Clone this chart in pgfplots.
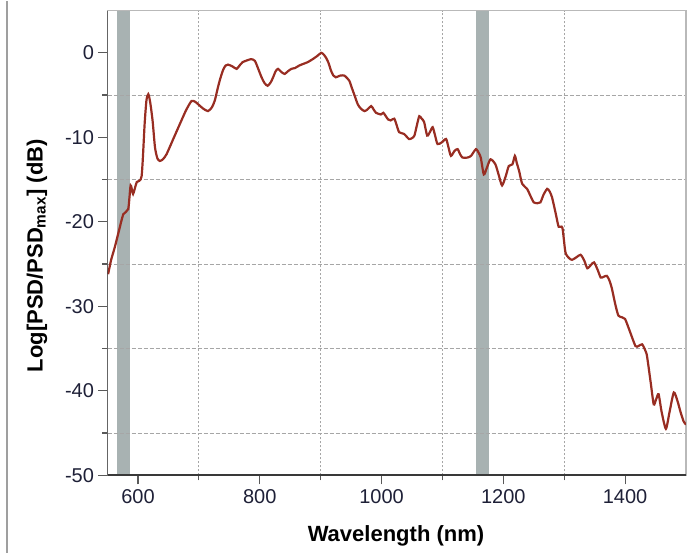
\documentclass[border=0pt]{standalone}
\usepackage{pgfplots}
\pgfplotsset{compat=1.18}
\usepackage{fontspec}
\setmainfont{Liberation Sans}
\definecolor{curve}{RGB}{152,45,34}
\definecolor{band}{RGB}{168,178,178}
\definecolor{ticktxt}{RGB}{30,32,55}
\begin{document}
\begin{tikzpicture}
\begin{axis}[
  set layers,
  scale only axis,
  width=578.5pt, height=464.75pt,
  at={(0,0)}, anchor=south west,
  xmin=550, xmax=1500, ymin=-50, ymax=5,
  xtick={600,800,1000,1200,1400},
  minor xtick={700,900,1100,1300},
  ytick={-50,-40,-30,-20,-10,0},
  minor ytick={-45,-35,-25,-15,-5},
  tick align=outside,
  major tick length=9pt, minor tick length=5pt,
  every tick/.style={gray!70!black, line width=1.2pt},
  xtick pos=bottom, ytick pos=left,
  xmajorgrids=false, ymajorgrids=false,
  xminorgrids=true, yminorgrids=true,
  minor x grid style={gray!70, line width=0.9pt, dash pattern=on 2pt off 2pt},
  minor y grid style={gray!70, line width=0.9pt, dash pattern=on 4pt off 2pt},
  axis line style={gray!55, line width=1.6pt},
  /pgf/number format/assume math mode=true,
  /pgf/number format/1000 sep={},
  ticklabel style={font=\fontsize{20}{24}\selectfont, text=ticktxt},
  xticklabel style={yshift=-2pt},
  yticklabel style={xshift=-1pt},
  xlabel={\textbf{Wavelength (nm)}},
  ylabel={\textbf{Log[PSD/PSD\textsubscript{max}] (dB)}},
  label style={font=\fontsize{22}{26}\selectfont},
  xlabel style={at={(rel axis cs:0.4987,-0.1302)}, anchor=center},
  ylabel style={at={(rel axis cs:-0.1219,0.4723)}, anchor=center},
]
\addplot[fill=band, draw=none, on layer=axis background] coordinates {(565,-50) (587,-50) (587,5) (565,5)} -- cycle;
\addplot[fill=band, draw=none, on layer=axis background] coordinates {(1155,-50) (1177,-50) (1177,5) (1155,5)} -- cycle;
\addplot[curve, line width=2.2pt, smooth, tension=0.4] coordinates {
(551,-26.2) (556,-24.5) (562,-23.0) (569,-21.0) (576,-19.1) (584,-18.5) (588,-15.7) (592,-16.7) (598,-15.3) (606,-14.6)
(611,-8.4) (614,-5.6) (617,-4.9) (620,-5.8) (624,-8.0) (628,-11.2) (632,-12.5) (636,-12.8) (641,-12.6) (647,-12.0)
(658,-10.2) (669,-8.4) (679,-6.8) (688,-5.7) (694,-5.8) (699,-6.1) (707,-6.6) (715,-6.9) (721,-6.5) (726,-5.7)
(731,-4.2) (735,-3.1) (740,-2.0) (744,-1.5) (748,-1.4) (755,-1.6) (762,-1.9) (768,-1.4) (772,-1.1) (779,-0.9)
(786,-0.75) (792,-0.95) (797,-1.8) (803,-2.9) (808,-3.6) (813,-3.9) (818,-3.5) (822,-2.9) (826,-2.2) (830,-1.9)
(836,-2.3) (841,-2.5) (846,-2.2) (852,-1.9) (858,-1.8) (865,-1.5) (872,-1.3) (879,-1.1) (887,-0.75) (894,-0.4)
(901,0.0) (905,-0.2) (909,-0.6) (913,-1.2) (917,-2.1) (921,-2.7) (925,-2.9) (932,-2.7) (939,-2.7) (947,-3.3)
(951,-4.1) (955,-4.9) (961,-6.1) (966,-6.6) (972,-6.9) (977,-6.7) (983,-6.3) (987,-6.7) (991,-7.1) (999,-7.3)
(1003,-7.1) (1007,-7.5) (1011,-7.9) (1015,-8.0) (1021,-7.8) (1025,-8.6) (1029,-9.4) (1037,-9.6) (1045,-10.2) (1050,-10.1)
(1054,-9.8) (1058,-8.6) (1062,-7.5) (1066,-7.8) (1070,-8.2) (1075,-9.8) (1080,-9.3) (1084,-8.8) (1088,-9.8) (1092,-10.8)
(1099,-10.6) (1106,-10.2) (1110,-11.2) (1114,-12.2) (1120,-11.6) (1125,-11.4) (1129,-12.0) (1133,-12.4) (1141,-12.4) (1147,-12.2)
(1155,-11.4) (1160,-11.9) (1163,-12.4) (1168,-14.4) (1173,-13.6) (1179,-12.6) (1187,-13.2) (1193,-14.6) (1198,-15.7) (1204,-14.6)
(1209,-13.4) (1215,-13.2) (1219,-12.2) (1222,-13.0) (1226,-14.0) (1231,-15.5) (1239,-16.1) (1245,-17.0) (1250,-17.7) (1256,-17.8)
(1261,-17.7) (1266,-16.8) (1272,-16.1) (1276,-16.4) (1280,-17.1) (1286,-19.0) (1291,-20.6) (1297,-20.7) (1302,-23.6) (1308,-24.3)
(1313,-24.5) (1320,-24.2) (1327,-23.9) (1333,-24.6) (1338,-25.5) (1344,-25.1) (1349,-24.8) (1355,-25.7) (1360,-26.6) (1365,-26.5)
(1370,-26.4) (1374,-26.9) (1378,-27.8) (1384,-29.8) (1389,-31.1) (1395,-31.3) (1400,-31.5) (1408,-33.0) (1417,-34.7) (1422,-34.7)
(1428,-34.5) (1433,-35.2) (1436,-35.9) (1442,-39.0) (1447,-41.6) (1451,-41.0) (1455,-40.4) (1460,-42.5) (1467,-44.5) (1473,-42.5)
(1480,-40.2) (1486,-41.2) (1491,-42.5) (1496,-43.6) (1500,-44.0)
};
\draw[gray!45!black, line width=1.8pt] (rel axis cs:0,1) -- (rel axis cs:0,0) -- (rel axis cs:1,0);
\end{axis}
\draw[gray!75, line width=1.6pt] (-100.5pt,-77.5pt) -- (-100.5pt,474.5pt);
\path[use as bounding box] (-107.5pt,-77.5pt) rectangle (582.5pt,474.5pt);
\end{tikzpicture}
\end{document}
